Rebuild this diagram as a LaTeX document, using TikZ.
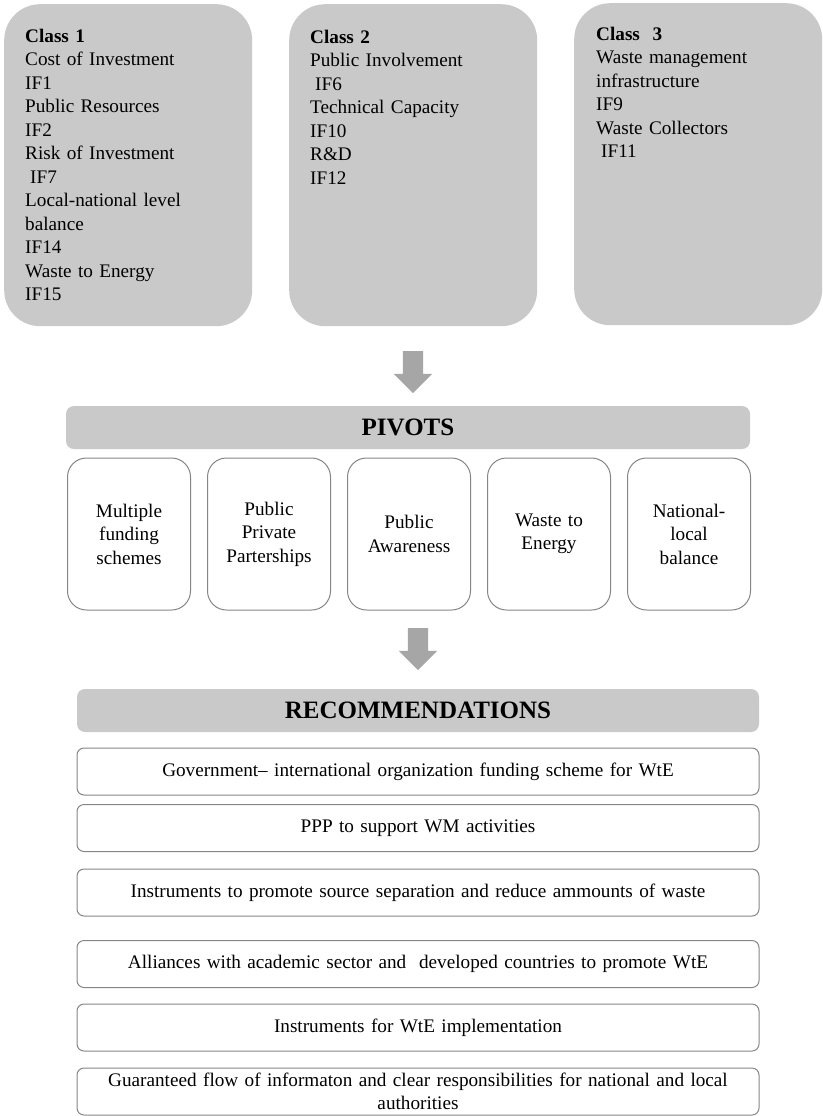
\documentclass[tikz,border=0pt]{standalone}
\usepackage{fontspec}
\setmainfont{Liberation Serif}
\usepackage{tikz}
\usetikzlibrary{positioning,shapes.arrows}
\definecolor{panel}{HTML}{C9C9C9}
\definecolor{arrowGray}{HTML}{A6A6A6}
\definecolor{edge}{HTML}{858585}
\newcommand{\bodysize}{\fontsize{19.2}{23.5}\selectfont}
\newcommand{\headsize}{\fontsize{25}{30}\selectfont\bfseries}
\newcommand{\indentword}{\hspace*{5pt}}
\tikzset{
  classbox/.style={fill=panel, rounded corners=36pt, minimum width=248pt,
    minimum height=322pt, inner sep=0pt, anchor=north west},
  classtext/.style={anchor=north west, inner sep=0pt, text width=225pt,
    align=left, font=\bodysize},
  headbar/.style={fill=panel, rounded corners=8pt, inner sep=0pt,
    minimum height=43pt, font=\headsize},
  pivotbox/.style={draw=edge, line width=1pt, rounded corners=19pt,
    minimum width=123pt, minimum height=152pt, text width=118pt,
    align=center, inner sep=0pt, font=\bodysize},
  recbox/.style={draw=edge, line width=1pt, rounded corners=7pt,
    minimum width=682pt, minimum height=47pt, text width=670pt,
    align=center, inner sep=0pt, font=\bodysize},
  blockarrow/.style={single arrow, shape border rotate=270, fill=arrowGray,
    minimum width=38pt, minimum height=42pt, single arrow head extend=9pt,
    single arrow head indent=0pt, inner sep=10pt}
}

\begin{document}
\begin{tikzpicture}[x=1pt,y=1pt]
  \useasboundingbox (0,0) rectangle (822,-1116);

  % the three classes
  \node[classbox] (class1) at (4,-4) {};
  \node[classbox] (class2) at (289,-4) {};
  \node[classbox] (class3) at (574,-3) {};
  \node[classtext] (class1txt) at (25,-28.7) {\textbf{Class 1}\\Cost of Investment\\IF1\\Public Resources\\IF2\\Risk of Investment\\\indentword IF7\\Local-national level\\balance\\IF14\\Waste to Energy\\IF15};
  \node[classtext] (class2txt) at (310,-29.7) {\textbf{Class 2}\\Public Involvement\\\indentword IF6\\Technical Capacity\\IF10\\R\&D\\IF12};
  \node[classtext] (class3txt) at (596,-26.7) {\textbf{Class\ \ 3}\\Waste management\\infrastructure\\IF9\\Waste Collectors\\\indentword IF11};

  % pivots
  \node[blockarrow] (arr1) at (413,-367) {};
  \node[headbar, minimum width=684pt] (pivots) at (408,-427.5) {PIVOTS};
  \foreach \x/\name/\txt in {129/piv1/{Multiple\\funding\\schemes},
      269/piv2/{Public\\Private\\Parterships},
      409/piv3/{Public\\Awareness},
      549/piv4/{Waste to\\Energy},
      689/piv5/{National-\\local\\balance}}
    \node[pivotbox] (\name) at (\x,-534) {\txt};

  % recommendations
  \node[blockarrow] (arr2) at (418,-644) {};
  \node[headbar, minimum width=682pt] (recs) at (418,-710.5) {RECOMMENDATIONS};
  \foreach \y/\name/\txt in {771.5/rec1/{Government-- international organization funding scheme for WtE},
      828/rec2/{PPP to support WM activities},
      892.5/rec3/{Instruments to promote source separation and reduce ammounts of waste},
      964/rec4/{Alliances with academic sector and\ \ developed countries to promote WtE},
      1027.5/rec5/{Instruments for WtE implementation},
      1091.5/rec6/{Guaranteed flow of informaton and clear responsibilities for national and local\\authorities}}
    \node[recbox] (\name) at (418,-\y) {\txt};
\end{tikzpicture}
\end{document}
